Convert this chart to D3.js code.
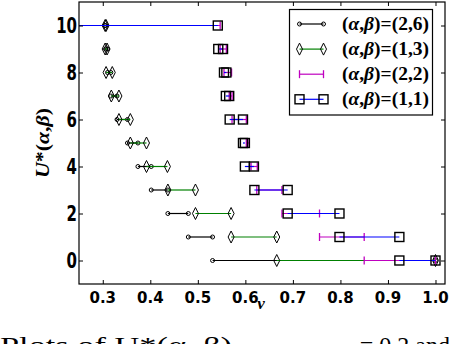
<!DOCTYPE html>
<html>
<head>
<meta charset="utf-8">
<script src="https://cdn.jsdelivr.net/npm/d3@7"></script>
<style>
  html, body { margin: 0; padding: 0; background: #fff; overflow: hidden; }
</style>
</head>
<body>
<svg id="chart" width="450" height="344"></svg>
<script>
// U* values (rows) and nu intervals [lo, hi] per (alpha, beta)
var uValues = [0, 1, 2, 3, 4, 5, 6, 7, 8, 9, 10]
var nuLo26 = [0.531, 0.480, 0.437, 0.402, 0.374, 0.352, 0.330, 0.317, 0.310, 0.306, 0.304]
var nuHi26 = [1.000, 0.531, 0.480, 0.437, 0.402, 0.374, 0.352, 0.330, 0.317, 0.310, 0.306]
var nuLo13 = [0.666, 0.570, 0.495, 0.437, 0.392, 0.358, 0.334, 0.318, 0.307, 0.305, 0.305]
var nuHi13 = [1.000, 0.666, 0.570, 0.495, 0.436, 0.392, 0.358, 0.334, 0.320, 0.309, 0.307]
var nuLo22 = [0.850, 0.756, 0.677, 0.624, 0.612, 0.602, 0.572, 0.566, 0.555, 0.547, 0.000]
var nuHi22 = [1.000, 0.850, 0.756, 0.677, 0.625, 0.608, 0.602, 0.572, 0.571, 0.560, 0.547]
var nuLo11 = [0.924, 0.798, 0.689, 0.619, 0.599, 0.595, 0.567, 0.559, 0.555, 0.543, 0.000]
var nuHi11 = [1.000, 0.924, 0.798, 0.689, 0.618, 0.599, 0.595, 0.566, 0.560, 0.553, 0.542]
var seriesNames = ["(2,6)", "(1,3)", "(2,2)", "(1,1)"]
var xTicks = [0.3, 0.4, 0.5, 0.6, 0.7, 0.8, 0.9, 1.0]
var yTicks = [0, 2, 4, 6, 8, 10]

var series = [
  {name: seriesNames[0], lo: nuLo26, hi: nuHi26, color: "#000000", marker: "circle"},
  {name: seriesNames[1], lo: nuLo13, hi: nuHi13, color: "#008000", marker: "diamond"},
  {name: seriesNames[2], lo: nuLo22, hi: nuHi22, color: "#bf00bf", marker: "bar"},
  {name: seriesNames[3], lo: nuLo11, hi: nuHi11, color: "#0000ff", marker: "square"}
]

var plotLeft = 79, plotRight = 445, plotTop = 2, plotBottom = 284
var svg = d3.select("#chart")

var xScale = d3.scaleLinear().domain([0.25, 1.02]).range([plotLeft, plotRight])
var yScale = d3.scaleLinear().domain([-1, 11]).range([plotBottom, plotTop])

svg.append("clipPath").attr("id", "plotClip")
  .append("rect")
  .attr("x", plotLeft).attr("y", plotTop)
  .attr("width", plotRight - plotLeft).attr("height", plotBottom - plotTop)

var plotG = svg.append("g").attr("clip-path", "url(#plotClip)")

// draws one marker of given type centred at (x,y)
function drawMarker(g, type, x, y, color)
{
  if (type == "circle")
    g.append("circle").attr("cx", x).attr("cy", y).attr("r", 2)
      .attr("fill", "none").attr("stroke", "black").attr("stroke-width", 1)
  else if (type == "diamond")
    g.append("path")
      .attr("d", "M" + x + "," + (y - 6) + "L" + (x + 3) + "," + y + "L" + x + "," + (y + 6) + "L" + (x - 3) + "," + y + "Z")
      .attr("fill", "none").attr("stroke", "black").attr("stroke-width", 1)
  else if (type == "bar")
    g.append("line").attr("x1", x).attr("x2", x).attr("y1", y - 4).attr("y2", y + 4)
      .attr("stroke", color).attr("stroke-width", 1.3)
  else
    g.append("rect").attr("x", x - 4.5).attr("y", y - 4.5).attr("width", 9).attr("height", 9)
      .attr("fill", "none").attr("stroke", "black").attr("stroke-width", 1.4)
}

series.forEach(function(s) {
  var g = plotG.append("g")
  uValues.forEach(function(u, i) {
    g.append("line")
      .attr("x1", xScale(s.lo[i])).attr("x2", xScale(s.hi[i]))
      .attr("y1", yScale(u)).attr("y2", yScale(u))
      .attr("stroke", s.color).attr("stroke-width", 1.2)
  })
  uValues.forEach(function(u, i) {
    drawMarker(g, s.marker, xScale(s.lo[i]), yScale(u), s.color)
    drawMarker(g, s.marker, xScale(s.hi[i]), yScale(u), s.color)
  })
})

// ---axes, ticks inward on all four sides---
svg.append("g").attr("transform", "translate(0," + plotBottom + ")")
  .call(d3.axisBottom(xScale).tickValues(xTicks).tickSize(-4).tickFormat(""))
svg.append("g").attr("transform", "translate(0," + plotTop + ")")
  .call(d3.axisTop(xScale).tickValues(xTicks).tickSize(-4).tickFormat(""))
svg.append("g").attr("transform", "translate(" + plotLeft + ",0)")
  .call(d3.axisLeft(yScale).tickValues(yTicks).tickSize(-4).tickFormat(""))
svg.append("g").attr("transform", "translate(" + plotRight + ",0)")
  .call(d3.axisRight(yScale).tickValues(yTicks).tickSize(-4).tickFormat(""))
svg.selectAll(".domain").remove()
svg.selectAll(".tick line").attr("stroke", "black").attr("stroke-width", 1)

svg.append("rect")
  .attr("x", plotLeft).attr("y", plotTop)
  .attr("width", plotRight - plotLeft).attr("height", plotBottom - plotTop)
  .attr("fill", "none").attr("stroke", "black").attr("stroke-width", 1.2)

svg.append("g").selectAll("text")
  .data(xTicks).enter().append("text")
  .attr("x", function(d) { return xScale(d) })
  .attr("y", 302.5)
  .attr("text-anchor", "middle")
  .attr("font-family", "DejaVu Sans")
  .attr("font-weight", "bold")
  .attr("font-size", "15px")
  .text(function(d) { return d3.format(".1f")(d) })

svg.append("g").selectAll("text")
  .data(yTicks).enter().append("text")
  .attr("transform", function(d) { return "translate(77," + (yScale(d) + 7.5) + ")scale(1,1.36)" })
  .attr("text-anchor", "end")
  .attr("font-family", "DejaVu Sans")
  .attr("font-weight", "bold")
  .attr("font-size", "15px")
  .text(function(d) { return d })

// ---axis names---
svg.append("text")
  .attr("x", 261).attr("y", 309)
  .attr("text-anchor", "middle")
  .attr("font-family", "Liberation Serif")
  .attr("font-weight", "bold")
  .attr("font-style", "italic")
  .attr("font-size", "17px")
  .text("ν")

var yName = svg.append("text")
  .attr("transform", "translate(49,143)rotate(-90)")
  .attr("text-anchor", "middle")
  .attr("font-family", "Liberation Serif")
  .attr("font-weight", "bold")
  .attr("font-size", "19px")
  .attr("textLength", 70)
  .attr("lengthAdjust", "spacingAndGlyphs")
yName.append("tspan").attr("font-style", "italic").text("U")
yName.append("tspan").text("*(")
yName.append("tspan").attr("font-style", "italic").text("α")
yName.append("tspan").text(",")
yName.append("tspan").attr("font-style", "italic").text("β")
yName.append("tspan").text(")")

// ---legend---
var legend = svg.append("g")
legend.append("rect")
  .attr("x", 289.5).attr("y", 9.5).attr("width", 143).attr("height", 105.5)
  .attr("fill", "white").attr("stroke", "black").attr("stroke-width", 1.2)

series.forEach(function(s, i) {
  var ly = 24 + i * 25.1
  legend.append("line")
    .attr("x1", 299.5).attr("x2", 323.5).attr("y1", ly).attr("y2", ly)
    .attr("stroke", s.color).attr("stroke-width", 1.2)
  drawMarker(legend, s.marker, 299.5, ly, s.color)
  drawMarker(legend, s.marker, 323.5, ly, s.color)

  var t = legend.append("text")
    .attr("x", 342).attr("y", ly + 6)
    .attr("font-family", "Liberation Serif")
    .attr("font-weight", "bold")
    .attr("font-size", "18px")
    .attr("textLength", 87)
    .attr("lengthAdjust", "spacingAndGlyphs")
  t.append("tspan").text("(")
  t.append("tspan").attr("font-style", "italic").text("α")
  t.append("tspan").text(",")
  t.append("tspan").attr("font-style", "italic").text("β")
  t.append("tspan").text(")=" + s.name)
})

// ---cropped caption at the bottom edge---
svg.append("text")
  .attr("x", 0).attr("y", 353)
  .attr("font-family", "Liberation Serif")
  .attr("font-size", "24px")
  .attr("textLength", 232)
  .attr("lengthAdjust", "spacingAndGlyphs")
  .text("Plots of U*(α, β)")
svg.append("text")
  .attr("x", 450).attr("y", 353)
  .attr("text-anchor", "end")
  .attr("font-family", "Liberation Serif")
  .attr("font-size", "24px")
  .text("= 0.2 and")
</script>
</body>
</html>
